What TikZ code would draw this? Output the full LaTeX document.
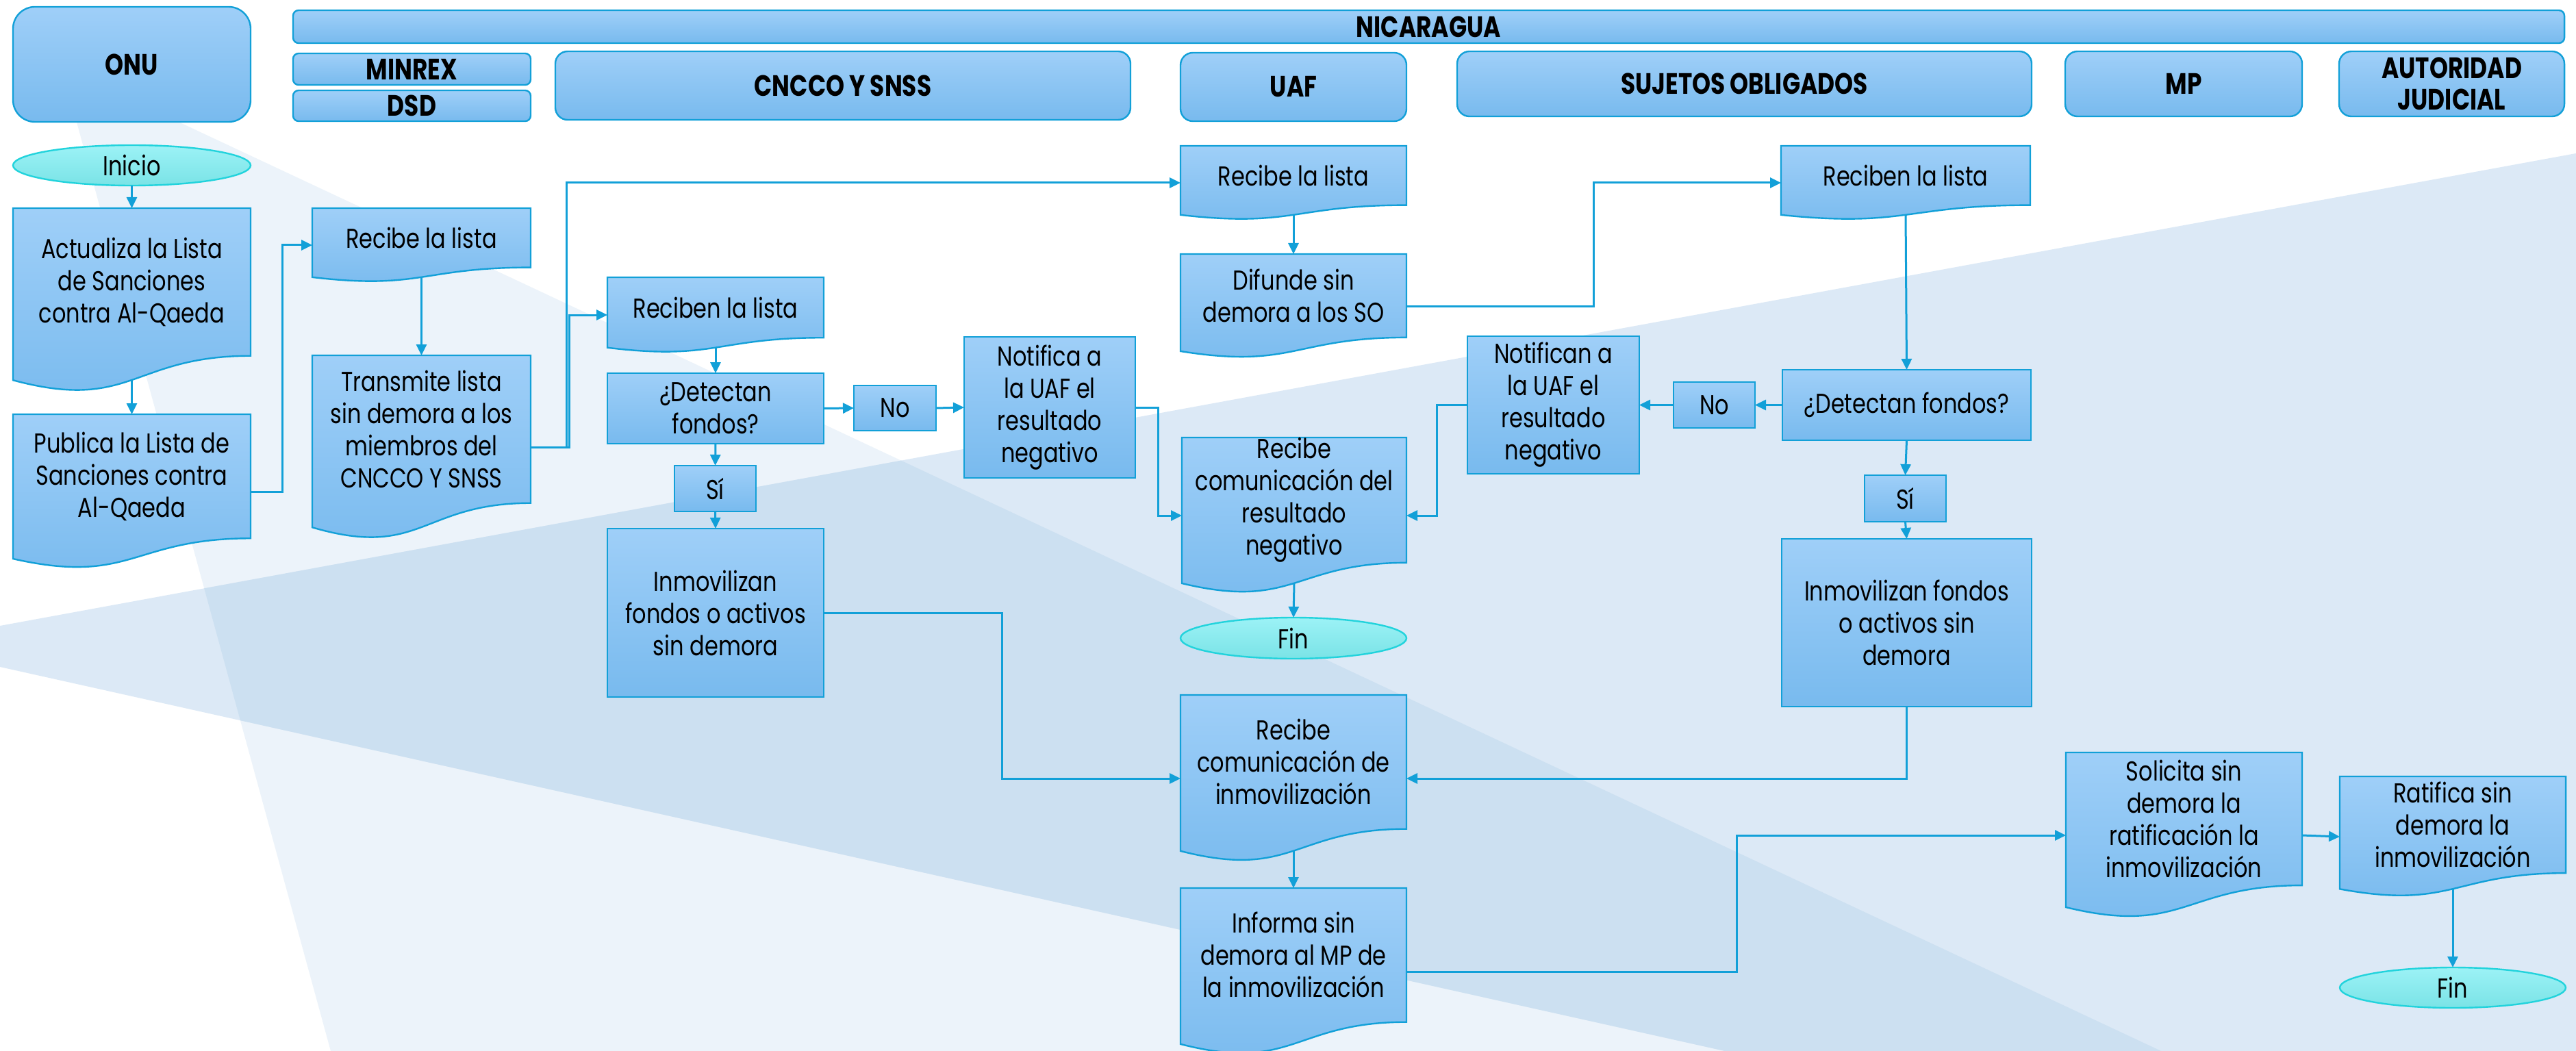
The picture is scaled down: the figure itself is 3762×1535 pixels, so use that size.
\documentclass[tikz,border=0pt]{standalone}
\usepackage{fontspec}
\setmainfont{Poppins}[FakeStretch=0.8]
\usetikzlibrary{arrows.meta,shapes.geometric,calc}
\definecolor{linecol}{HTML}{12A0D8}
\definecolor{shapetop}{HTML}{9FCFF8}
\definecolor{shapebot}{HTML}{78BAEE}
\definecolor{ovaltop}{HTML}{9CF2F6}
\definecolor{ovalbot}{HTML}{7AE3E6}
\definecolor{ovalline}{HTML}{22D3DC}
\definecolor{bgA}{HTML}{ECF3FA}
\definecolor{bgB}{HTML}{DCE9F6}
\definecolor{bgC}{HTML}{CCE0F1}
\tikzset{
  fillblue/.style={top color=shapetop,bottom color=shapebot,draw=linecol,line width=1.2pt},
  procbox/.style={fillblue,rectangle,inner sep=0pt,outer sep=0pt,align=center,font=\fontsize{20}{23.5}\selectfont},
  headbox/.style={procbox,rounded corners=#1,font=\fontsize{21.5}{23}\selectfont\bfseries},
  headbox/.default=9pt,
  ovalbox/.style={ellipse,top color=ovaltop,bottom color=ovalbot,draw=ovalline,line width=1.2pt,inner sep=0pt,outer sep=0pt,font=\fontsize{20}{23.5}\selectfont},
  docframe/.style={rectangle,inner sep=0pt,outer sep=0pt},
  doctext/.style={inner sep=0pt,outer sep=0pt,align=center,font=\fontsize{20}{23.5}\selectfont},
  conn/.style={draw=linecol,line width=1.5pt,-{Triangle[length=8pt,width=7.5pt]}},
}
\newcommand{\boxnode}[7][procbox]{%
  \node[#1,minimum width={(#4-#3)*0.5pt},minimum height={(#6-#5)*0.5pt}] (#2) at ({(#3+#4)/2},{(#5+#6)/2}) {#7};}
\newcommand{\ovalnode}[6]{%
  \node[ovalbox,minimum width={(#3-#2)*0.5pt},minimum height={(#5-#4)*0.5pt}] (#1) at ({(#2+#3)/2},{(#4+#5)/2}) {#6};}
% name, x1, x2, y1, h, text
\newcommand{\docnode}[6]{%
  \pgfmathsetmacro{\xm}{(#2+#3)/2}%
  \pgfmathsetmacro{\ya}{#4+0.802*#5}%
  \pgfmathsetmacro{\yb}{#4+1.1075*#5}%
  \pgfmathsetmacro{\yc}{#4+0.934*#5}%
  \node[docframe,minimum width={(#3-#2)*0.5pt},minimum height={#5*0.5pt}] (#1) at (\xm,{#4+#5/2}) {};
  \path[fillblue] (#2,#4) -- (#3,#4) -- (#3,\ya) .. controls (\xm,\ya) and (\xm,\yb) .. (#2,\yc) -- cycle;
  \node[doctext] (#1-text) at (\xm,{#4+0.401*#5}) {#6};
  \coordinate (#1-s) at (\xm,{#4+0.933*#5});
}
\begin{document}
\begin{tikzpicture}[x=0.5pt,y=-0.5pt]
\useasboundingbox (0,0) rectangle (3762,1535);
\fill[white] (0,0) rectangle (3762,1535);
% background
\fill[bgA] (90,98) -- (3156,1535) -- (483,1535) -- cycle;
\fill[bgB] (0,914) -- (3762,224) -- (3762,1535) -- (2519,1535) -- (0,974) -- cycle;
\begin{scope}
  \clip (0,914) -- (3762,224) -- (3762,1535) -- (2519,1535) -- (0,974) -- cycle;
  \fill[bgC] (90,98) -- (3156,1535) -- (483,1535) -- cycle;
\end{scope}
% headers
\boxnode[{headbox=16pt}]{onu}{19}{366}{10}{178}{ONU}
\boxnode[{headbox=4pt}]{nic}{428}{3745}{15}{63}{NICARAGUA}
\boxnode[{headbox=4pt}]{minrex}{428}{775}{78}{124}{MINREX}
\boxnode[{headbox=4pt}]{dsd}{428}{775}{132}{177}{DSD}
\boxnode[headbox]{cncco}{811}{1651}{75}{175}{CNCCO Y SNSS}
\boxnode[headbox]{uaf}{1724}{2054}{77}{177}{UAF}
\boxnode[headbox]{so}{2128}{2967}{75}{170}{SUJETOS OBLIGADOS}
\boxnode[headbox]{mp}{3016}{3362}{75}{170}{MP}
\boxnode[headbox]{jud}{3416}{3745}{75}{170}{AUTORIDAD\\JUDICIAL}
% ONU column
\ovalnode{inicio}{19}{366}{212}{271}{Inicio}
\docnode{actualiza}{19}{366}{304}{269}{Actualiza la Lista\\de Sanciones\\contra Al-Qaeda}
\docnode{publica}{19}{366}{605}{226}{Publica la Lista de\\Sanciones contra\\Al-Qaeda}
% MINREX column
\docnode{recdsd}{456}{775}{304}{108}{Recibe la lista}
\docnode{transmite}{456}{775}{519}{269}{Transmite lista\\sin demora a los\\miembros del\\CNCCO Y SNSS}
% CNCCO column
\docnode{reccn}{887}{1203}{405}{110}{Reciben la lista}
\boxnode{detcn}{887}{1203}{545}{648}{¿Detectan\\fondos?}
\boxnode{nocn}{1247}{1367}{563}{629}{No}
\boxnode{sicn}{985}{1104}{680}{747}{Sí}
\boxnode{inmcn}{887}{1203}{772}{1018}{Inmovilizan\\fondos o activos\\sin demora}
\boxnode{notcn}{1408}{1658}{492}{698}{Notifica a\\la UAF el\\resultado\\negativo}
% UAF column
\docnode{recuaf}{1724}{2054}{213}{108}{Recibe la lista}
\docnode{difunde}{1724}{2054}{371}{152}{Difunde sin\\demora a los SO}
\docnode{recneg}{1726}{2054}{639}{228}{Recibe\\comunicación del\\resultado\\negativo}
\ovalnode{finuaf}{1724}{2054}{902}{962}{Fin}
\docnode{recinm}{1724}{2054}{1015}{244}{Recibe\\comunicación de\\inmovilización}
\docnode{informa}{1724}{2054}{1297}{244}{Informa sin\\demora al MP de\\la inmovilización}
% SO column
\docnode{recso}{2601}{2965}{213}{108}{Reciben la lista}
\boxnode{detso}{2603}{2966}{540}{643}{¿Detectan fondos?}
\boxnode{noso}{2444}{2563}{558}{625}{No}
\boxnode{notso}{2143}{2394}{491}{692}{Notifican a\\la UAF el\\resultado\\negativo}
\boxnode{siso}{2723}{2842}{694}{762}{Sí}
\boxnode{inmso}{2602}{2967}{787}{1032}{Inmovilizan fondos\\o activos sin\\demora}
% MP and judicial
\docnode{solicita}{3017}{3362}{1099}{242}{Solicita sin\\demora la\\ratificación la\\inmovilización}
\docnode{ratifica}{3417}{3747}{1134}{176}{Ratifica sin\\demora la\\inmovilización}
\ovalnode{finjud}{3417}{3747}{1413}{1472}{Fin}
% connectors
\draw[conn] (inicio.south) -- (actualiza.north);
\draw[conn] (actualiza-s) -- (publica.north);
\draw[conn] (publica.east) -- ++(46,0) |- (recdsd.west);
\draw[conn] (recdsd-s) -- (transmite.north);
\draw[conn] (transmite.east) -- ++(56,0) |- (reccn.west);
\draw[conn] (transmite.east) -- ++(52,0) |- (recuaf.west);
\draw[conn] (reccn-s) -- (detcn.north);
\draw[conn] (detcn.east) -- (nocn.west);
\draw[conn] (nocn.east) -- (notcn.west);
\draw[conn] (detcn.south) -- (sicn.north);
\draw[conn] (sicn.south) -- (inmcn.north);
\draw[conn] (notcn.east) -- ++(33,0) |- (recneg.west);
\draw[conn] (inmcn.east) -- ++(260,0) |- (recinm.west);
\draw[conn] (recuaf-s) -- (difunde.north);
\draw[conn] (difunde.east) -- ++(273,0) |- (recso.west);
\draw[conn] (recso-s) -- (detso.north);
\draw[conn] (detso.west) -- (noso.east);
\draw[conn] (noso.west) -- (notso.east);
\draw[conn] (notso.west) -- ++(-45,0) |- (recneg.east);
\draw[conn] (recneg-s) -- (finuaf.north);
\draw[conn] (detso.south) -- (siso.north);
\draw[conn] (siso.south) -- (inmso.north);
\draw[conn] (inmso.south) |- (recinm.east);
\draw[conn] (recinm-s) -- (informa.north);
\draw[conn] (informa.east) -- ++(482,0) |- (solicita.west);
\draw[conn] (solicita.east) -- (ratifica.west);
\draw[conn] (ratifica-s) -- (finjud.north);
\end{tikzpicture}
\end{document}
